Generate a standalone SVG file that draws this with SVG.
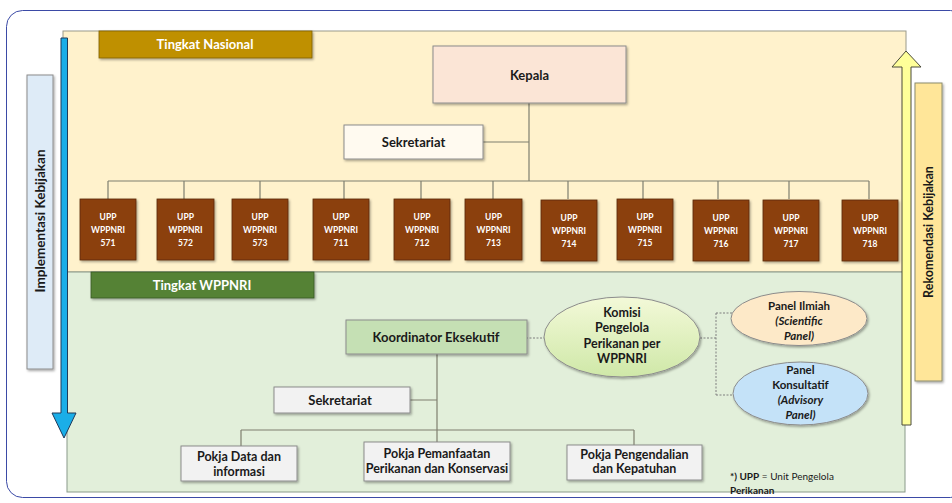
<svg xmlns="http://www.w3.org/2000/svg" width="952" height="503" viewBox="0 0 952 503">
<defs>
  <filter id="sh" x="-10%" y="-10%" width="130%" height="140%">
    <feDropShadow dx="1.2" dy="1.5" stdDeviation="0.9" flood-color="#000" flood-opacity="0.35"/>
  </filter>
  <linearGradient id="gKom" x1="0" y1="0" x2="0" y2="1">
    <stop offset="0" stop-color="#f3f9d8"/>
    <stop offset="1" stop-color="#cfe8a8"/>
  </linearGradient>
  <style>
    text { font-family: Lato, "Open Sans", "Liberation Sans", sans-serif; font-weight: bold; text-anchor: middle; fill: #1a1a1a; stroke: none; }
    .w { fill: #ffffff; }
    .box { stroke: #8c8c8c; stroke-width: 1; filter: url(#sh); }
    .upp rect { fill: #8b400d; stroke: #5a2a08; stroke-width: 0.8; filter: url(#sh); }
    .upp text { fill: #ffffff; font-size: 8.5px; }
    .ln { fill: none; stroke: #7f7f6f; stroke-width: 1.2; }
    .dot { fill: none; stroke: #7f7f7f; stroke-width: 1; stroke-dasharray: 2 1.5; }
    .t13 { font-size: 13px; }
    .t12 { font-size: 12.5px; }
    .t11 { font-size: 11.5px; }
  </style>
</defs>

<!-- outer frame -->
<rect x="6.5" y="10.5" width="960" height="487" rx="16" fill="#ffffff" stroke="#3b4aa6" stroke-width="1"/>

<!-- panels -->
<rect id="panel-nasional" x="63" y="31" width="843" height="241" fill="#fff2cc" stroke="#9a9a8a" stroke-width="1"/>
<rect id="panel-wppnri" x="67" y="272" width="838" height="220" fill="#e2efda" stroke="#8a9a8a" stroke-width="1"/>

<!-- connectors -->
<g id="connectors">
  <path class="ln" d="M529 103 V181 M483 142 H529 M108 181 H869"/>
  <path class="ln" d="M108 181 V199 M184 181 V199 M260 181 V199 M344 181 V199 M421 181 V199 M493 181 V199 M568 181 V199 M643 181 V199 M718 181 V199 M789 181 V199 M869 181 V199"/>
  <path class="ln" d="M437 354 V442 M410 400 H437 M241 430 H634 M241 430 V446 M634 430 V445"/>
  <path class="dot" d="M526 338 H544 M700 338 H716 M716 313 V395 M716 313 H732 M716 395 H734"/>
</g>

<!-- level labels -->
<g id="tingkat-nasional">
  <rect x="99" y="31" width="213" height="27" fill="#bf9000" stroke="#7f6000" stroke-width="0.8" filter="url(#sh)"/>
  <text class="w t13" x="205" y="49">Tingkat Nasional</text>
</g>
<g id="tingkat-wppnri">
  <rect x="91" y="272" width="223" height="26" fill="#548235" stroke="#385723" stroke-width="0.8" filter="url(#sh)"/>
  <text class="w t13" x="202" y="289.5">Tingkat WPPNRI</text>
</g>

<!-- left arrow and label -->
<g id="implementasi">
  <rect x="27" y="75" width="26" height="294" fill="#deebf7" stroke="#8c8c8c" stroke-width="1" filter="url(#sh)"/>
  <text transform="translate(45 221) rotate(-90)" font-size="13.5">Implementasi Kebijakan</text>
</g>
<g id="arrow-down">
  <path d="M61 38 H67.5 V413 H76 L64 438 L52 413 H61 Z" fill="#1aaee8" stroke="#1f3a5a" stroke-width="1"/>
</g>

<!-- right arrow and label -->
<g id="arrow-up">
  <path d="M902 425 V67 H892 L906 51 L921 67 H911 V425 Z" fill="#ffff99" stroke="#4a4a3a" stroke-width="1"/>
</g>
<g id="rekomendasi">
  <rect x="915" y="83" width="27" height="298" fill="#ffe699" stroke="#8c8c6c" stroke-width="1" filter="url(#sh)"/>
  <text transform="translate(932.5 232) rotate(-90)" font-size="12.5">Rekomendasi Kebijakan</text>
</g>

<!-- national nodes -->
<g id="kepala">
  <rect class="box" x="433" y="46" width="193" height="57" fill="#fbe5d6"/>
  <text class="t13" x="529.5" y="79.5">Kepala</text>
</g>
<g id="sekretariat-nasional">
  <rect class="box" x="344" y="125" width="139" height="34" fill="#fffaf0"/>
  <text class="t13" x="413.5" y="147">Sekretariat</text>
</g>

<g id="upp-571" class="upp"><rect x="80" y="199" width="56" height="61"/><text x="108" y="220">UPP</text><text x="108" y="233">WPPNRI</text><text x="108" y="246">571</text></g>
<g id="upp-572" class="upp"><rect x="157" y="199" width="57" height="61"/><text x="185.5" y="220">UPP</text><text x="185.5" y="233">WPPNRI</text><text x="185.5" y="246">572</text></g>
<g id="upp-573" class="upp"><rect x="232" y="199" width="56" height="61"/><text x="260" y="220">UPP</text><text x="260" y="233">WPPNRI</text><text x="260" y="246">573</text></g>
<g id="upp-711" class="upp"><rect x="313" y="199" width="56" height="61"/><text x="341" y="220">UPP</text><text x="341" y="233">WPPNRI</text><text x="341" y="246">711</text></g>
<g id="upp-712" class="upp"><rect x="394" y="199" width="56" height="61"/><text x="422" y="220">UPP</text><text x="422" y="233">WPPNRI</text><text x="422" y="246">712</text></g>
<g id="upp-713" class="upp"><rect x="465" y="199" width="57" height="61"/><text x="493.5" y="220">UPP</text><text x="493.5" y="233">WPPNRI</text><text x="493.5" y="246">713</text></g>
<g id="upp-714" class="upp"><rect x="541" y="200" width="56" height="61"/><text x="569" y="221">UPP</text><text x="569" y="234">WPPNRI</text><text x="569" y="247">714</text></g>
<g id="upp-715" class="upp"><rect x="617" y="199" width="56" height="61"/><text x="645" y="220">UPP</text><text x="645" y="233">WPPNRI</text><text x="645" y="246">715</text></g>
<g id="upp-716" class="upp"><rect x="693" y="200" width="56" height="61"/><text x="721" y="221">UPP</text><text x="721" y="234">WPPNRI</text><text x="721" y="247">716</text></g>
<g id="upp-717" class="upp"><rect x="763" y="200" width="56" height="61"/><text x="791" y="221">UPP</text><text x="791" y="234">WPPNRI</text><text x="791" y="247">717</text></g>
<g id="upp-718" class="upp"><rect x="842" y="200" width="56" height="61"/><text x="870" y="221">UPP</text><text x="870" y="234">WPPNRI</text><text x="870" y="247">718</text></g>

<!-- WPPNRI nodes -->
<g id="koordinator">
  <rect class="box" x="346" y="320" width="181" height="34" fill="#c5e0b4"/>
  <text class="t13" x="436" y="341.5">Koordinator Eksekutif</text>
</g>
<g id="komisi">
  <ellipse class="box" cx="622" cy="337" rx="78" ry="40" fill="url(#gKom)"/>
  <text class="t12" x="622" y="316.5">Komisi</text>
  <text class="t12" x="622" y="332">Pengelola</text>
  <text class="t12" x="622" y="347.5">Perikanan per</text>
  <text class="t12" x="622" y="363">WPPNRI</text>
</g>
<g id="panel-ilmiah">
  <ellipse class="box" cx="799" cy="318.5" rx="68" ry="27" fill="#fde9c8"/>
  <text class="t11" x="799" y="310">Panel Ilmiah</text>
  <text class="t11" x="799" y="325" font-style="italic">(Scientific</text>
  <text class="t11" x="799" y="340" font-style="italic">Panel)</text>
</g>
<g id="panel-konsultatif">
  <ellipse class="box" cx="800.5" cy="393.5" rx="67.5" ry="31.5" fill="#c4e2f8"/>
  <text class="t11" x="800.5" y="374">Panel</text>
  <text class="t11" x="800.5" y="389">Konsultatif</text>
  <text class="t11" x="800.5" y="404" font-style="italic">(Advisory</text>
  <text class="t11" x="800.5" y="419" font-style="italic">Panel)</text>
</g>
<g id="sekretariat-wppnri">
  <rect class="box" x="274" y="387" width="136" height="26" fill="#f2f2f2"/>
  <text class="t13" x="340" y="404.5">Sekretariat</text>
</g>
<g id="pokja-data">
  <rect class="box" x="181" y="446" width="116" height="35" fill="#f2f2f2"/>
  <text class="t12" x="239" y="461">Pokja Data dan</text>
  <text class="t12" x="239" y="476">informasi</text>
</g>
<g id="pokja-pemanfaatan">
  <rect class="box" x="364" y="442" width="146" height="39" fill="#f2f2f2"/>
  <text class="t12" x="437" y="458">Pokja Pemanfaatan</text>
  <text class="t12" x="437" y="473">Perikanan dan Konservasi</text>
</g>
<g id="pokja-pengendalian">
  <rect class="box" x="567" y="445" width="135" height="35" fill="#f2f2f2"/>
  <text class="t12" x="634.5" y="458.5">Pokja Pengendalian</text>
  <text class="t12" x="634.5" y="473">dan Kepatuhan</text>
</g>

<!-- footnote -->
<g id="footnote">
  <text x="730" y="480" font-size="10" style="text-anchor:start"><tspan>*) UPP</tspan><tspan font-weight="normal"> = Unit Pengelola</tspan></text>
  <text x="730" y="494" font-size="10" font-weight="normal" style="text-anchor:start">Perikanan</text>
</g>
</svg>
